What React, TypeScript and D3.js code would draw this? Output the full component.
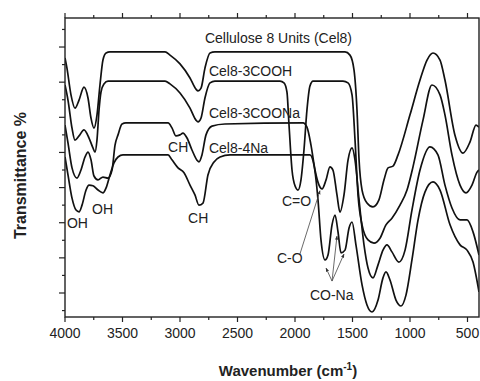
import React from "react";
import * as d3 from "d3";

const W = 480;
const H = 381;

const xDomain: [number, number] = [4000, 400];
const yDomain: [number, number] = [3.17, 88.26];
const xMajorTicks = [4000, 3500, 3000, 2500, 2000, 1500, 1000, 500];
const xMinorTicks = [3750, 3250, 2750, 2250, 1750, 1250, 750];
const yMajorTicks = [10, 20, 30, 40, 50, 60, 70, 80];
const yMinorTicks = [5, 15, 25, 35, 45, 55, 65, 75, 85];

// [wavenumber cm-1, transmittance (arbitrary, offset)]
const cel8: [number, number][] = [
  [4000, 76.9], [3983, 74.0], [3948, 66.4], [3913, 62.6], [3878, 64.9], [3835, 68.6], [3800, 65.5],
  [3774, 59.8], [3748, 56.9], [3722, 60.6], [3696, 69.2], [3670, 76.3], [3643, 78.3], [3609, 78.6],
  [3130, 78.6], [3087, 77.7], [3000, 75.2], [2913, 71.2], [2861, 68.0], [2843, 67.5], [2817, 68.3],
  [2783, 74.0], [2739, 78.3], [2696, 78.6], [1565, 78.6], [1522, 77.7], [1487, 73.5], [1461, 62.1],
  [1443, 47.9], [1417, 39.3], [1374, 35.6], [1322, 34.5], [1270, 36.5], [1226, 42.2], [1191, 45.6],
  [1148, 46.1], [1104, 49.3], [1000, 60.7], [913, 70.6], [852, 76.3], [800, 78.3], [739, 76.3],
  [696, 70.6], [609, 54.9], [539, 49.8], [478, 53.0], [426, 57.8], [400, 57.2],
];

const cel8_3COOH: [number, number][] = [
  [4000, 69.2], [3974, 64.9], [3939, 56.9], [3913, 53.5], [3878, 54.7], [3835, 56.4], [3791, 54.1],
  [3757, 51.3], [3739, 50.1], [3722, 53.5], [3704, 62.1], [3687, 67.2], [3661, 69.5], [3626, 70.3],
  [3130, 70.3], [3087, 69.5], [3000, 66.9], [2913, 62.6], [2861, 59.2], [2843, 58.7], [2817, 59.8],
  [2783, 65.5], [2739, 69.8], [2696, 70.3], [2130, 70.3], [2096, 69.8], [2070, 67.2], [2052, 57.8],
  [2026, 45.0], [2000, 40.5], [1974, 39.3], [1948, 42.2], [1922, 50.7], [1896, 62.1], [1870, 68.9],
  [1843, 70.3], [1583, 70.3], [1539, 69.8], [1504, 66.4], [1478, 53.5], [1452, 37.9], [1417, 29.4],
  [1365, 25.1], [1313, 24.2], [1261, 25.6], [1209, 29.4], [1157, 31.3], [1087, 35.0], [1026, 39.3],
  [974, 45.9], [887, 59.2], [809, 69.2], [739, 66.4], [696, 60.7], [635, 49.3], [565, 40.7],
  [513, 38.5], [461, 40.7], [417, 44.4], [400, 45.0],
];

const cel8_3COONa: [number, number][] = [
  [4000, 57.8], [3974, 52.7], [3939, 45.6], [3896, 42.7], [3861, 45.0], [3826, 48.7], [3800, 50.1],
  [3774, 47.9], [3748, 43.3], [3713, 42.2], [3670, 43.0], [3626, 42.7], [3591, 45.0], [3565, 52.1],
  [3539, 55.0], [3504, 58.1], [3470, 58.4], [3104, 58.4], [3070, 57.0], [3035, 54.7], [3000, 55.0],
  [2974, 55.5], [2939, 54.1], [2896, 50.7], [2852, 47.8], [2835, 47.3], [2809, 49.3], [2774, 55.0],
  [2722, 57.5], [2609, 58.1], [1930, 58.4], [1896, 57.2], [1861, 52.1], [1826, 45.0], [1791, 40.7],
  [1765, 39.6], [1730, 42.2], [1696, 45.9], [1670, 45.0], [1635, 37.9], [1609, 33.0], [1574, 37.9],
  [1539, 47.8], [1504, 51.3], [1478, 47.8], [1443, 36.5], [1400, 23.7], [1365, 17.1], [1322, 14.3],
  [1278, 18.0], [1235, 22.2], [1200, 23.7], [1157, 21.7], [1096, 18.8], [1043, 22.2], [983, 33.6],
  [913, 45.0], [826, 51.6], [757, 49.3], [696, 40.7], [635, 34.2], [565, 30.8], [504, 30.8],
  [452, 27.4], [400, 20.8],
];

const cel8_4Na: [number, number][] = [
  [4000, 48.7], [3974, 43.6], [3939, 37.0], [3904, 33.6], [3878, 33.1], [3852, 35.0], [3817, 39.3],
  [3791, 40.7], [3757, 40.5], [3713, 39.3], [3670, 38.5], [3643, 39.9], [3609, 43.6], [3574, 47.0],
  [3539, 48.7], [3496, 49.3], [3104, 49.3], [3070, 47.9], [3017, 45.6], [2965, 44.2], [2913, 40.7],
  [2870, 37.9], [2835, 35.0], [2800, 35.6], [2757, 43.6], [2704, 47.3], [2652, 48.7], [2565, 49.3],
  [1870, 49.3], [1835, 46.4], [1800, 36.5], [1774, 25.1], [1739, 19.4], [1713, 20.8], [1678, 29.4],
  [1652, 32.2], [1626, 27.4], [1600, 21.4], [1565, 22.2], [1530, 28.5], [1504, 30.2], [1470, 23.7],
  [1417, 12.3], [1374, 6.6], [1330, 4.6], [1278, 8.0], [1235, 14.3], [1209, 16.0], [1174, 13.7],
  [1122, 8.0], [1078, 6.3], [1035, 9.4], [983, 19.4], [930, 30.8], [870, 38.7], [800, 41.6],
  [739, 39.3], [652, 29.4], [565, 23.7], [504, 22.2], [452, 18.8], [400, 10.3],
];

const seriesList = [cel8, cel8_3COOH, cel8_3COONa, cel8_4Na];

// [text, wavenumber, transmittance] (start anchored, baseline)
const labels: [string, number, number][] = [
  ["Cellulose 8 Units (Cel8)", 2783, 81.1],
  ["Cel8-3COOH", 2748, 71.7],
  ["Cel8-3COONa", 2748, 59.8],
  ["Cel8-4Na", 2748, 49.8],
  ["CH", 3104, 50.1],
  ["CH", 2930, 29.9],
  ["OH", 3983, 28.5],
  ["OH", 3765, 32.5],
  ["C=O", 2113, 34.8],
  ["C-O", 2157, 18.5],
  ["CO-Na", 1870, 8.0],
];

// arrows: [fromWn, fromT, toWn, toT]
const arrows: [number, number, number, number][] = [
  [1957, 21.1, 1783, 39.1],
  [1678, 13.4, 1730, 17.1],
  [1678, 13.4, 1635, 26.2],
  [1678, 13.4, 1574, 21.1],
];

export default function App() {
  const left = 65, right = 479, top = 18, bottom = 317;
  const x = d3.scaleLinear().domain(xDomain).range([left, right]);
  const y = d3.scaleLinear().domain(yDomain).range([bottom, top]);
  const line = d3
    .line<[number, number]>()
    .x((d) => x(d[0]))
    .y((d) => y(d[1]))
    .curve(d3.curveMonotoneX);

  const font = "'Liberation Sans', Arial, Helvetica, sans-serif";
  const axisColor = "#222";

  return (
    <svg
      width={W}
      height={H}
      style={{ position: "absolute", left: 0, top: 0, background: "#fff" }}
      fontFamily={font}
    >
      <defs>
        <clipPath id="plot">
          <rect x={left} y={top} width={right - left} height={bottom - top} />
        </clipPath>
        <marker id="ah" viewBox="0 0 10 10" refX="9" refY="5" markerWidth="5" markerHeight="5" orient="auto">
          <path d="M0,1 L10,5 L0,9 z" fill="#333" />
        </marker>
      </defs>

      <g clipPath="url(#plot)">
        {seriesList.map((s, i) => (
          <path key={i} d={line(s) || ""} fill="none" stroke="#111" strokeWidth={1.7} strokeLinejoin="round" />
        ))}
      </g>

      {/* frame */}
      <rect x={left} y={top} width={right - left} height={bottom - top} fill="none" stroke={axisColor} strokeWidth={1.4} />

      {/* x ticks bottom & top */}
      {xMajorTicks.map((t) => (
        <g key={"xm" + t}>
          <line x1={x(t)} x2={x(t)} y1={bottom} y2={bottom + 5} stroke={axisColor} strokeWidth={1.2} />
          <line x1={x(t)} x2={x(t)} y1={top} y2={top - 5} stroke={axisColor} strokeWidth={1.2} />
          <text x={x(t)} y={338} textAnchor="middle" fontSize={14} fill="#222">
            {t}
          </text>
        </g>
      ))}
      {xMinorTicks.map((t) => (
        <g key={"xn" + t}>
          <line x1={x(t)} x2={x(t)} y1={bottom} y2={bottom + 3} stroke={axisColor} strokeWidth={1.2} />
          <line x1={x(t)} x2={x(t)} y1={top} y2={top - 3} stroke={axisColor} strokeWidth={1.2} />
        </g>
      ))}
      {/* y ticks */}
      {yMajorTicks.map((t) => (
        <line key={"ym" + t} x1={left} x2={left - 6} y1={y(t)} y2={y(t)} stroke={axisColor} strokeWidth={1.2} />
      ))}
      {yMinorTicks.map((t) => (
        <line key={"yn" + t} x1={left} x2={left - 3} y1={y(t)} y2={y(t)} stroke={axisColor} strokeWidth={1.2} />
      ))}

      {/* labels */}
      {labels.map(([txt, wn, tv], i) => (
        <text key={"l" + i} x={x(wn)} y={y(tv)} fontSize={14} fill="#222">
          {txt}
        </text>
      ))}

      {arrows.map(([a, b, c, d], i) => (
        <line
          key={"a" + i}
          x1={x(a)}
          y1={y(b)}
          x2={x(c)}
          y2={y(d)}
          stroke="#444"
          strokeWidth={0.8}
          markerEnd="url(#ah)"
        />
      ))}

      {/* axis titles */}
      <text
        transform={`translate(26, ${(top + bottom) / 2 + 8}) rotate(-90)`}
        textAnchor="middle"
        fontSize={16}
        fontWeight="bold"
        fill="#222"
      >
        Transmittance %
      </text>
      <text x={288} y={376} textAnchor="middle" fontSize={15} fontWeight="bold" fill="#222">
        Wavenumber (cm
        <tspan fontSize={10} dy={-6}>
          -1
        </tspan>
        <tspan dy={6}>)</tspan>
      </text>
    </svg>
  );
}
